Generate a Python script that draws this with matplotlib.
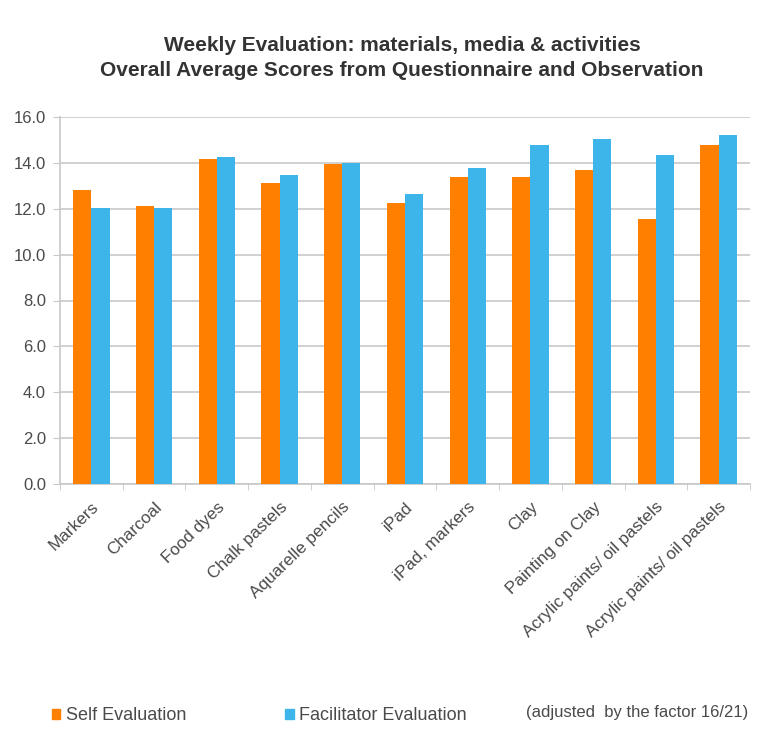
import matplotlib
matplotlib.use("Agg")
import matplotlib.pyplot as plt
import numpy as np
from matplotlib.patches import Patch

categories = ["Markers", "Charcoal", "Food dyes", "Chalk pastels", "Aquarelle pencils",
              "iPad", "iPad, markers", "Clay", "Painting on Clay",
              "Acrylic paints/ oil pastels", "Acrylic paints/ oil pastels"]
self_eval = [12.80, 12.11, 14.15, 13.13, 13.93, 12.26, 13.38, 13.38, 13.70, 11.54, 14.80]
facilitator_eval = [12.02, 12.02, 14.25, 13.47, 14.00, 12.65, 13.76, 14.80, 15.04, 14.34, 15.20]
yticks = [0, 2, 4, 6, 8, 10, 12, 14, 16]
series_names = ["Self Evaluation", "Facilitator Evaluation"]
note = "(adjusted  by the factor 16/21)"
title = "Weekly Evaluation: materials, media & activities\nOverall Average Scores from Questionnaire and Observation"

plt.rcParams['font.family'] = ['Liberation Sans', 'DejaVu Sans']

orange = "#FF7F00"
blue = "#3DB5EA"
txt = "#4A4A4A"

fig = plt.figure(figsize=(7.58, 7.42), dpi=100)
ax = fig.add_axes([60/758, 1 - 484/742, 690/758, (484-117)/742])

x = np.arange(len(categories))
w = 0.29
ax.bar(x - w/2, self_eval, width=w, color=orange, zorder=3)
ax.bar(x + w/2, facilitator_eval, width=w, color=blue, zorder=3)

ax.set_xlim(-0.5, len(categories) - 0.5)
ax.set_ylim(0, 16)
ax.set_yticks(yticks)
ax.set_yticklabels([f"{v:.1f}" for v in yticks], fontsize=12, color=txt)
ax.yaxis.grid(True, color="#C8C8C8", linewidth=1.2, zorder=0)
ax.set_axisbelow(True)

ax.set_xticks(x)
ax.set_xticklabels(categories, rotation=44, ha="right", rotation_mode="anchor",
                   fontsize=12.3, color=txt)
ax.tick_params(axis="x", length=0, pad=11)
ax.set_xticks(np.arange(len(categories) + 1) - 0.5, minor=True)
ax.tick_params(axis="x", which="minor", length=4, color="#C8C8C8", direction="out")
ax.tick_params(axis="y", length=5, color="#C8C8C8", pad=5)

for s in ["top", "right"]:
    ax.spines[s].set_visible(False)
ax.spines["left"].set_color("#C8C8C8")
ax.spines["bottom"].set_color("#C8C8C8")
ax.spines["left"].set_linewidth(1.2)
ax.spines["bottom"].set_linewidth(1.2)

fig.text(402/758, 1 - 58/742, title, ha="center", va="center", fontsize=15,
         fontweight="bold", color="#333333", linespacing=1.4)

handles = [Patch(color=orange), Patch(color=blue)]
fig.legend(handles, series_names, loc="center left", bbox_to_anchor=(36/758, 1 - 716/742),
           ncol=2, frameon=False, fontsize=13, handlelength=0.45, handleheight=0.5,
           handletextpad=0.3, columnspacing=5.5, labelcolor=txt)
fig.text(748/758, 1 - 713/742, note, ha="right", va="center", fontsize=12, color=txt)

fig.savefig("out.png", dpi=100, facecolor="white")
